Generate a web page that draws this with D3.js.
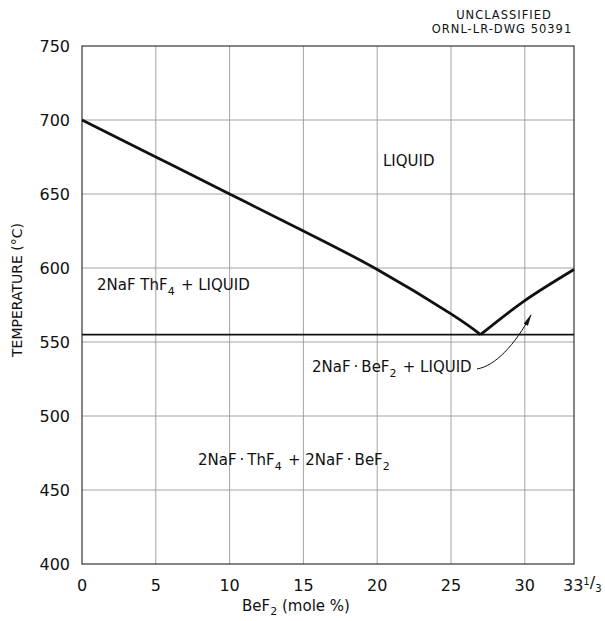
<!DOCTYPE html>
<html>
<head>
  <meta charset="utf-8">
  <title>NaF-ThF4-BeF2 section</title>
  <script src="https://d3js.org/d3.v7.min.js"></script>
  <style>
    body { margin: 0; background: #fff; }
    text { font-family: "DejaVu Sans", sans-serif; fill: #111; }
    .grid line { stroke: #9a9a9a; stroke-width: 0.9; }
    .frame { fill: none; stroke: #222; stroke-width: 1.1; }
  </style>
</head>
<body>
<div id="chart"></div>
<script>
// values
var xTicks = [0, 5, 10, 15, 20, 25, 30];
var yTicks = [400, 450, 500, 550, 600, 650, 700, 750];
var liquidusThF4 = [[0, 700], [5, 675], [10, 650], [15, 625], [20, 599], [25, 569], [27, 555]];
var liquidusBeF2 = [[27, 555], [30, 578], [33.333, 599]];
var solidusTemp = 555;
var xMax = 100 / 3;

var width = 605, height = 621;
var margin = {top: 46, right: 31, bottom: 57, left: 82};

var svg = d3.select("#chart")
  .append("svg")
    .attr("width", width)
    .attr("height", height);

var x = d3.scaleLinear().domain([0, xMax]).range([margin.left, width - margin.right]);
var y = d3.scaleLinear().domain([400, 750]).range([height - margin.bottom, margin.top]);

// arrow head
svg.append("defs").append("marker")
    .attr("id", "head")
    .attr("viewBox", "0 0 12 6")
    .attr("refX", 11).attr("refY", 3)
    .attr("markerWidth", 12).attr("markerHeight", 6)
    .attr("markerUnits", "userSpaceOnUse")
    .attr("orient", "auto")
  .append("path")
    .attr("d", "M0,0.6 L12,3 L0,5.4 Z")
    .attr("fill", "#111");

// grid
var grid = svg.append("g").attr("class", "grid");
grid.selectAll("line.v")
  .data(xTicks.slice(1))
  .enter().append("line")
    .attr("x1", function(d) { return x(d); })
    .attr("x2", function(d) { return x(d); })
    .attr("y1", y(750)).attr("y2", y(400));
grid.selectAll("line.h")
  .data(yTicks.slice(1, -1))
  .enter().append("line")
    .attr("x1", x(0)).attr("x2", x(xMax))
    .attr("y1", function(d) { return y(d); })
    .attr("y2", function(d) { return y(d); });

// frame
svg.append("rect")
    .attr("class", "frame")
    .attr("x", x(0)).attr("y", y(750))
    .attr("width", x(xMax) - x(0))
    .attr("height", y(400) - y(750));

// y tick labels
svg.append("g")
  .selectAll("text")
  .data(yTicks)
  .enter().append("text")
    .attr("x", x(0) - 12)
    .attr("y", function(d) { return y(d); })
    .attr("dy", "0.36em")
    .attr("text-anchor", "end")
    .style("font-size", "16px")
    .text(function(d) { return d; });

// x tick labels
svg.append("g")
  .selectAll("text")
  .data(xTicks)
  .enter().append("text")
    .attr("x", function(d) { return x(d); })
    .attr("y", y(400) + 27)
    .attr("text-anchor", "middle")
    .style("font-size", "16px")
    .text(function(d) { return d; });

var last = svg.append("text")
    .attr("x", x(xMax) - 11)
    .attr("y", y(400) + 27)
    .style("font-size", "16px");
last.append("tspan").text("33");
last.append("tspan").attr("dy", -6).style("font-size", "10px").text("1");
last.append("tspan").attr("dy", 3).text("/");
last.append("tspan").attr("dy", 4).style("font-size", "10px").text("3");

// axis titles
var xt = svg.append("text")
    .attr("x", 296)
    .attr("y", 611)
    .attr("text-anchor", "middle")
    .style("font-size", "15px");
xt.append("tspan").text("BeF");
xt.append("tspan").attr("dy", 4).style("font-size", "11px").text("2");
xt.append("tspan").attr("dy", -4).text(" (mole %)");

svg.append("text")
    .attr("transform", "translate(22,290) rotate(-90)")
    .attr("text-anchor", "middle")
    .style("font-size", "14px")
    .text("TEMPERATURE (°C)");

// drawing number
svg.append("text")
    .attr("x", 504).attr("y", 19)
    .attr("text-anchor", "middle")
    .style("font-size", "11.5px")
    .style("letter-spacing", "1px")
    .text("UNCLASSIFIED");
svg.append("text")
    .attr("x", 502).attr("y", 33)
    .attr("text-anchor", "middle")
    .style("font-size", "11.5px")
    .style("letter-spacing", "1px")
    .text("ORNL-LR-DWG 50391");

// solidus
svg.append("line")
    .attr("x1", x(0)).attr("x2", x(xMax))
    .attr("y1", y(solidusTemp)).attr("y2", y(solidusTemp))
    .attr("stroke", "#111")
    .attr("stroke-width", 1.8);

// liquidus curves
var line = d3.line()
    .x(function(d) { return x(d[0]); })
    .y(function(d) { return y(d[1]); })
    .curve(d3.curveNatural);

[liquidusThF4, liquidusBeF2].forEach(function(c) {
  svg.append("path")
      .datum(c)
      .attr("d", line)
      .attr("fill", "none")
      .attr("stroke", "#111")
      .attr("stroke-width", 2.8)
      .attr("stroke-linejoin", "round");
});

// field labels; objects mark subscripts
function label(px, py, parts) {
  var t = svg.append("text").attr("x", px).attr("y", py).style("font-size", "15px");
  parts.forEach(function(p) {
    if (typeof p === "object") {
      t.append("tspan").attr("dy", 5).style("font-size", "11px").text(p.s);
      t.append("tspan").attr("dy", -5).text("\u200a");
    } else {
      t.append("tspan").text(p);
    }
  });
  return t;
}

var dot = "\u2009\u00b7\u2009";
label(383, 166, ["LIQUID"]);
label(97, 290, ["2NaF ThF", {s: "4"}, " + LIQUID"]);
label(312, 372, ["2NaF" + dot + "BeF", {s: "2"}, " + LIQUID"]);
label(198, 465, ["2NaF" + dot + "ThF", {s: "4"}, " + 2NaF" + dot + "BeF", {s: "2"}]);

// arrow to the BeF2 liquidus
svg.append("path")
    .attr("d", "M477,369 C495,366 515,345 531,315")
    .attr("fill", "none")
    .attr("stroke", "#111")
    .attr("stroke-width", 1)
    .attr("marker-end", "url(#head)");
</script>
</body>
</html>
